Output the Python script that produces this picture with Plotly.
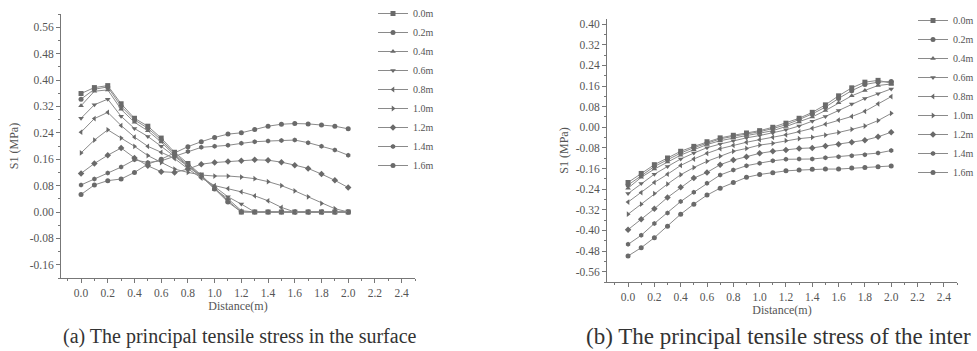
import plotly.graph_objects as go

distance = [round(0.1 * i, 1) for i in range(21)]
series_names = ["0.0m", "0.2m", "0.4m", "0.6m", "0.8m", "1.0m", "1.2m", "1.4m", "1.6m"]
symbols = ["square", "circle", "triangle-up", "triangle-down", "triangle-left",
           "triangle-right", "diamond", "hexagon", "circle"]

# (a) principal tensile stress in the surface
surface = {
    "0.0m": [0.359, 0.377, 0.383, 0.328, 0.284, 0.260, 0.224, 0.181, 0.147, 0.112, 0.072,
             0.034, 0.000, 0.000, 0.000, 0.000, 0.000, 0.000, 0.000, 0.000, 0.000],
    "0.2m": [0.342, 0.372, 0.379, 0.320, 0.279, 0.254, 0.218, 0.176, 0.143, 0.110, 0.070,
             0.030, 0.000, 0.000, 0.000, 0.000, 0.000, 0.000, 0.000, 0.000, 0.000],
    "0.4m": [0.322, 0.366, 0.370, 0.311, 0.272, 0.246, 0.212, 0.172, 0.140, 0.108, 0.070,
             0.040, 0.004, 0.000, 0.000, 0.000, 0.000, 0.000, 0.000, 0.000, 0.000],
    "0.6m": [0.284, 0.325, 0.342, 0.290, 0.253, 0.229, 0.199, 0.168, 0.138, 0.108, 0.075,
             0.046, 0.024, 0.000, 0.000, 0.000, 0.000, 0.000, 0.000, 0.000, 0.000],
    "0.8m": [0.242, 0.283, 0.302, 0.262, 0.227, 0.199, 0.181, 0.162, 0.131, 0.103, 0.080,
             0.071, 0.061, 0.049, 0.034, 0.014, 0.000, 0.000, 0.000, 0.000, 0.000],
    "1.0m": [0.179, 0.218, 0.249, 0.224, 0.199, 0.171, 0.150, 0.130, 0.120, 0.112, 0.109,
             0.109, 0.106, 0.101, 0.092, 0.080, 0.064, 0.046, 0.026, 0.010, 0.000],
    "1.2m": [0.117, 0.147, 0.172, 0.194, 0.164, 0.140, 0.122, 0.120, 0.130, 0.145, 0.150,
             0.153, 0.155, 0.158, 0.157, 0.151, 0.142, 0.132, 0.115, 0.096, 0.074],
    "1.4m": [0.082, 0.100, 0.118, 0.136, 0.158, 0.150, 0.155, 0.168, 0.183, 0.196, 0.199,
             0.202, 0.208, 0.213, 0.215, 0.217, 0.218, 0.210, 0.199, 0.188, 0.172],
    "1.6m": [0.053, 0.082, 0.095, 0.100, 0.120, 0.145, 0.160, 0.178, 0.198, 0.213, 0.226,
             0.236, 0.240, 0.250, 0.260, 0.266, 0.268, 0.267, 0.264, 0.260, 0.252],
}

# (b) principal tensile stress of the interface
interface = {
    "0.0m": [-0.214, -0.179, -0.145, -0.119, -0.093, -0.074, -0.056, -0.041, -0.031, -0.022, -0.013,
             0.000, 0.016, 0.035, 0.058, 0.087, 0.122, 0.153, 0.175, 0.182, 0.171],
    "0.2m": [-0.224, -0.187, -0.152, -0.126, -0.100, -0.079, -0.061, -0.045, -0.035, -0.026, -0.017,
             -0.005, 0.010, 0.030, 0.052, 0.078, 0.112, 0.142, 0.166, 0.175, 0.178],
    "0.4m": [-0.236, -0.194, -0.162, -0.135, -0.108, -0.087, -0.067, -0.052, -0.041, -0.032, -0.023,
             -0.013, 0.003, 0.021, 0.040, 0.065, 0.095, 0.122, 0.143, 0.162, 0.168],
    "0.6m": [-0.257, -0.218, -0.182, -0.152, -0.123, -0.100, -0.079, -0.065, -0.052, -0.041, -0.032,
             -0.022, -0.010, 0.005, 0.023, 0.042, 0.065, 0.090, 0.112, 0.130, 0.149],
    "0.8m": [-0.290, -0.253, -0.214, -0.182, -0.148, -0.123, -0.101, -0.083, -0.070, -0.058, -0.048,
             -0.039, -0.029, -0.017, -0.004, 0.012, 0.028, 0.042, 0.062, 0.091, 0.119],
    "1.0m": [-0.337, -0.298, -0.257, -0.220, -0.184, -0.156, -0.132, -0.112, -0.093, -0.082, -0.069,
             -0.062, -0.052, -0.044, -0.039, -0.030, -0.020, -0.008, 0.005, 0.026, 0.054],
    "1.2m": [-0.397, -0.357, -0.316, -0.272, -0.233, -0.197, -0.175, -0.145, -0.127, -0.114, -0.101,
             -0.093, -0.088, -0.082, -0.080, -0.073, -0.066, -0.058, -0.050, -0.037, -0.019],
    "1.4m": [-0.454, -0.419, -0.373, -0.332, -0.288, -0.252, -0.217, -0.185, -0.166, -0.149, -0.139,
             -0.130, -0.124, -0.123, -0.123, -0.118, -0.114, -0.110, -0.106, -0.100, -0.090],
    "1.6m": [-0.499, -0.467, -0.428, -0.384, -0.337, -0.298, -0.263, -0.236, -0.214, -0.194, -0.183,
             -0.176, -0.169, -0.166, -0.163, -0.162, -0.162, -0.158, -0.156, -0.153, -0.150],
}

x_ticks = [0.0, 0.2, 0.4, 0.6, 0.8, 1.0, 1.2, 1.4, 1.6, 1.8, 2.0, 2.2, 2.4]
x_ticktext = ["0.0", "0.2", "0.4", "0.6", "0.8", "1.0", "1.2", "1.4", "1.6", "1.8", "2.0", "2.2", "2.4"]
ya_ticks = [-0.16, -0.08, 0.0, 0.08, 0.16, 0.24, 0.32, 0.40, 0.48, 0.56]
ya_ticktext = ["-0.16", "-0.08", "0.00", "0.08", "0.16", "0.24", "0.32", "0.40", "0.48", "0.56"]
yb_ticks = [-0.56, -0.48, -0.40, -0.32, -0.24, -0.16, -0.08, 0.0, 0.08, 0.16, 0.24, 0.32, 0.40]
yb_ticktext = ["-0.56", "-0.48", "-0.40", "-0.32", "-0.24", "-0.16", "-0.08", "0.00",
               "0.08", "0.16", "0.24", "0.32", "0.40"]

caption_a = "(a) The principal tensile stress in the surface"
caption_b = "(b) The principal tensile stress of the inter"

FONT = "Liberation Serif"
LINE_C = "#8a8a8a"
MARK_C = "#6a6a6a"
TEXT_C = "#555555"
AX_C = "#777777"

fig = go.Figure()
for name, sym in zip(series_names, symbols):
    fig.add_trace(go.Scatter(
        x=distance, y=surface[name], name=name, mode="lines+markers",
        line=dict(color=LINE_C, width=1),
        marker=dict(symbol=sym, size=5, color=MARK_C),
        xaxis="x", yaxis="y", legend="legend"))
for name, sym in zip(series_names, symbols):
    fig.add_trace(go.Scatter(
        x=distance, y=interface[name], name=name, mode="lines+markers",
        line=dict(color=LINE_C, width=1),
        marker=dict(symbol=sym, size=5, color=MARK_C),
        xaxis="x2", yaxis="y2", legend="legend2"))

W, H = 977, 351

def axis_common():
    return dict(showline=True, linecolor=AX_C, linewidth=1, ticks="outside",
                ticklen=4, tickcolor=AX_C, showgrid=False, zeroline=False,
                tickfont=dict(family=FONT, size=11.5, color=TEXT_C),
                title_font=dict(family=FONT, size=12, color=TEXT_C))

def minor(d):
    return dict(tickmode="linear", tick0=0, dtick=d, ticklen=2, ticks="outside", tickcolor=AX_C)

xa = axis_common()
xa.update(domain=[61 / W, 415 / W], range=[-0.15, 2.5], tickmode="array",
          tickvals=x_ticks, ticktext=x_ticktext, anchor="y",
          title=dict(text="Distance(m)", standoff=2), minor=minor(0.1))
ya = axis_common()
ya.update(domain=[(H - 278) / H, (H - 14) / H], range=[-0.2, 0.6], tickmode="array",
          tickvals=ya_ticks, ticktext=ya_ticktext, anchor="x",
          title=dict(text="S1 (MPa)", standoff=8), minor=minor(0.04))
xb = axis_common()
xb.update(domain=[607 / W, 957 / W], range=[-0.16, 2.5], tickmode="array",
          tickvals=x_ticks, ticktext=x_ticktext, anchor="y2",
          title=dict(text="Distance(m)", standoff=2), minor=minor(0.1))
yb = axis_common()
yb.update(domain=[(H - 282) / H, (H - 19) / H], range=[-0.6, 0.42], tickmode="array",
          tickvals=yb_ticks, ticktext=yb_ticktext, anchor="x2",
          title=dict(text="S1 (MPa)", standoff=4), minor=minor(0.04))

legend_common = dict(font=dict(family=FONT, size=10, color=TEXT_C), bgcolor="rgba(0,0,0,0)",
                     xanchor="left", yanchor="top", itemwidth=30, tracegroupgap=0,
                     itemclick=False, maxheight=320)
leg_a = dict(legend_common)
leg_a.update(x=373 / W, y=(H + 1) / H)
leg_b = dict(legend_common)
leg_b.update(x=913 / W, y=(H - 6) / H)

fig.update_layout(
    width=W, height=H, margin=dict(l=0, r=0, t=0, b=0, autoexpand=False),
    paper_bgcolor="white", plot_bgcolor="white", showlegend=True,
    xaxis=xa, yaxis=ya, xaxis2=xb, yaxis2=yb,
    legend=leg_a, legend2=leg_b,
    annotations=[
        dict(text=caption_a, x=61 / W, y=(H - 336) / H, xref="paper", yref="paper",
             xanchor="left", yanchor="middle", showarrow=False,
             font=dict(family=FONT, size=20, color="#333333")),
        dict(text=caption_b, x=584 / W, y=(H - 336) / H, xref="paper", yref="paper",
             xanchor="left", yanchor="middle", showarrow=False,
             font=dict(family=FONT, size=23, color="#333333")),
    ],
)

fig.write_html("out.html", config={"displayModeBar": False},
               post_script="document.body.style.margin='0px';")
